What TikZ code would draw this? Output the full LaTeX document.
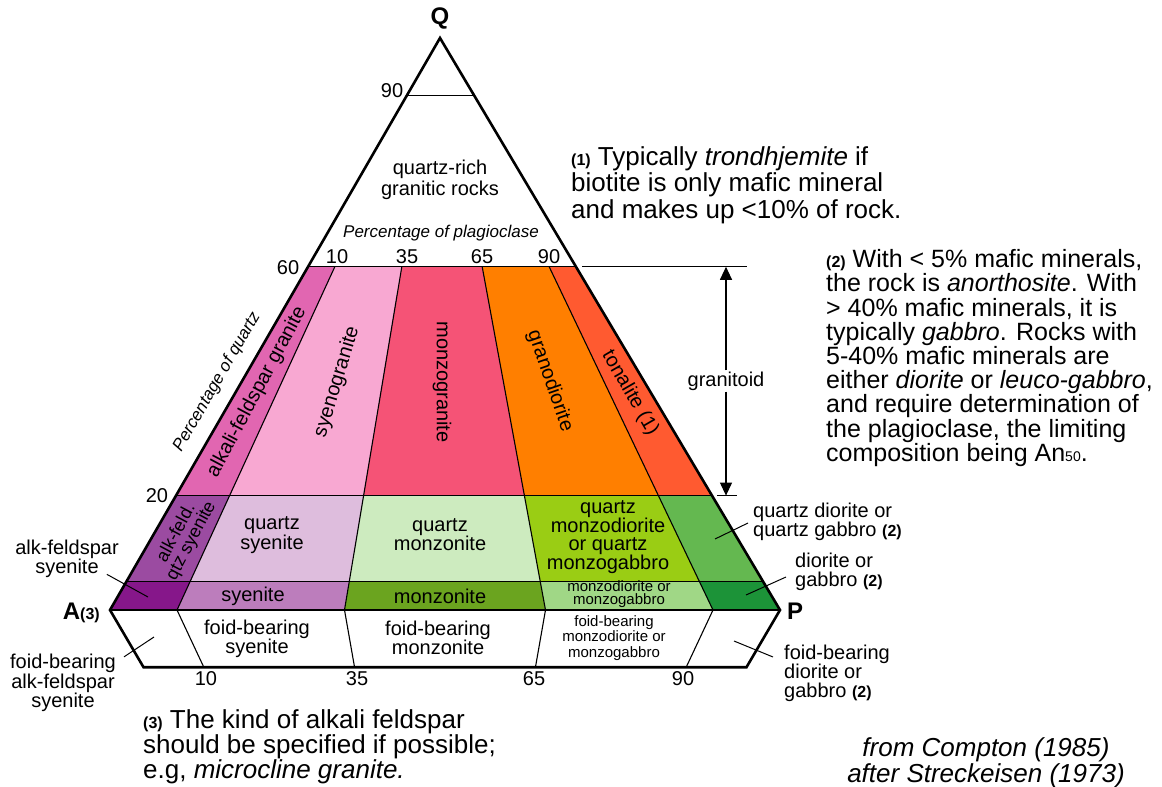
\documentclass[tikz,border=0pt]{standalone}
\usepackage{fontspec}
\setmainfont{Liberation Sans}
\usetikzlibrary{calc,arrows.meta}

\definecolor{afgranite}{HTML}{E166B1}
\definecolor{syenogranite}{HTML}{F8A8D2}
\definecolor{monzogranite}{HTML}{F55376}
\definecolor{granodiorite}{HTML}{FF7F00}
\definecolor{tonalite}{HTML}{FF5A30}
\definecolor{afqsyenite}{HTML}{9B4BA1}
\definecolor{qsyenite}{HTML}{DEBDDD}
\definecolor{qmonzonite}{HTML}{CDEBBF}
\definecolor{qmonzodiorite}{HTML}{9ACD14}
\definecolor{qdiorite}{HTML}{64B850}
\definecolor{afsyenite}{HTML}{86178A}
\definecolor{syenite}{HTML}{BC7DBC}
\definecolor{monzonite}{HTML}{6BA41F}
\definecolor{monzodiorite}{HTML}{A0D786}
\definecolor{diorite}{HTML}{1C9338}

\tikzset{
  rock/.style={font=\fontsize{20}{19}\selectfont, align=center, inner sep=1pt},
  smallrock/.style={font=\fontsize{15}{13.5}\selectfont, align=center, inner sep=1pt},
  num/.style={font=\fontsize{20}{20}\selectfont, inner sep=1pt},
  corner/.style={font=\fontsize{24}{24}\selectfont\bfseries, inner sep=1pt},
  note/.style={align=left, anchor=west, inner sep=0pt},
  border/.style={line width=2.6pt, line join=miter},
  divide/.style={line width=1.1pt},
  leader/.style={line width=1pt},
}
\newcommand{\noteref}[1]{{\fontsize{16}{16}\selectfont\bfseries(#1)}}

\begin{document}
\begin{tikzpicture}[x=1pt,y=-1pt]
  \useasboundingbox (0,0) rectangle (1162,787);
  \coordinate (Q) at (440,38);
  \coordinate (A) at (110,610);
  \coordinate (P) at (780,610);
  \coordinate (F) at (445,1182);
  % grid points: plagioclase ratio / quartz content
  \foreach \r/\n in {0/0,0.1/10,0.35/35,0.65/65,0.9/90,1/100} {
    \coordinate (q0-\n) at ($(A)!\r!(P)$);
    \coordinate (q5-\n) at ($(q0-\n)!0.05!(Q)$);
    \coordinate (q20-\n) at ($(q0-\n)!0.2!(Q)$);
    \coordinate (q60-\n) at ($(q0-\n)!0.6!(Q)$);
    \coordinate (f10-\n) at ($(q0-\n)!0.1!(F)$);
  }
  \coordinate (q90-0) at ($(A)!0.9!(Q)$);
  \coordinate (q90-100) at ($(P)!0.9!(Q)$);

  % granitoid row
  \fill[afgranite] (q20-0) -- (q60-0) -- (q60-10) -- (q20-10) -- cycle;
  \fill[syenogranite] (q20-10) -- (q60-10) -- (q60-35) -- (q20-35) -- cycle;
  \fill[monzogranite] (q20-35) -- (q60-35) -- (q60-65) -- (q20-65) -- cycle;
  \fill[granodiorite] (q20-65) -- (q60-65) -- (q60-90) -- (q20-90) -- cycle;
  \fill[tonalite] (q20-90) -- (q60-90) -- (q60-100) -- (q20-100) -- cycle;
  % quartz row
  \fill[afqsyenite] (q5-0) -- (q20-0) -- (q20-10) -- (q5-10) -- cycle;
  \fill[qsyenite] (q5-10) -- (q20-10) -- (q20-35) -- (q5-35) -- cycle;
  \fill[qmonzonite] (q5-35) -- (q20-35) -- (q20-65) -- (q5-65) -- cycle;
  \fill[qmonzodiorite] (q5-65) -- (q20-65) -- (q20-90) -- (q5-90) -- cycle;
  \fill[qdiorite] (q5-90) -- (q20-90) -- (q20-100) -- (q5-100) -- cycle;
  % bottom row
  \fill[afsyenite] (q0-0) -- (q5-0) -- (q5-10) -- (q0-10) -- cycle;
  \fill[syenite] (q0-10) -- (q5-10) -- (q5-35) -- (q0-35) -- cycle;
  \fill[monzonite] (q0-35) -- (q5-35) -- (q5-65) -- (q0-65) -- cycle;
  \fill[monzodiorite] (q0-65) -- (q5-65) -- (q5-90) -- (q0-90) -- cycle;
  \fill[diorite] (q0-90) -- (q5-90) -- (q5-100) -- (q0-100) -- cycle;

  % field boundaries
  \draw[divide] (q90-0) -- (q90-100);
  \draw[divide] (q60-0) -- (q60-100);
  \draw[divide] (q20-0) -- (q20-100);
  \draw[divide] (q5-0) -- (q5-100);
  \draw[divide] (A) -- (P);
  \foreach \n in {10,35,65,90}
    \draw[divide] (q60-\n) -- (q0-\n) -- (f10-\n);
  \draw[border] (A) -- (Q) -- (P) -- (f10-100) -- (f10-0) -- cycle;

  % granitoid range
  \coordinate (gt-l) at (582,266.8);
  \coordinate (gt-r) at (747,266.8);
  \coordinate (gb-l) at (717,495.6);
  \coordinate (gb-r) at (737,495.6);
  \draw[divide] (gt-l) -- (gt-r);
  \draw[divide] (gb-l) -- (gb-r);
  \node[rock, fill=white] (granitoid) at (726,381) {granitoid};
  \draw[divide, -{Triangle[length=13pt,width=12pt]}] (granitoid.north) -- (granitoid.north |- gt-l);
  \draw[divide, -{Triangle[length=13pt,width=12pt]}] (granitoid.south) -- (granitoid.south |- gb-l);

  % corners
  \node[corner] (Qlbl) at (440,18) {Q};
  \node[corner, anchor=east] (Albl) at (101,613) {A{\fontsize{16}{16}\selectfont(3)}};
  \node[corner, anchor=west] (Plbl) at (786,611) {P};

  % scale numbers
  \node[num] (n90) at (392,91) {90};
  \node[num] (n60) at (288,268) {60};
  \node[num] (n20) at (157,496) {20};
  \node[num] (p10) at (337,257) {10};
  \node[num] (p35) at (407,257) {35};
  \node[num] (p65) at (482,257) {65};
  \node[num] (p90) at (549,257) {90};
  \node[num] (b10) at (206,679) {10};
  \node[num] (b35) at (357,679) {35};
  \node[num] (b65) at (534,679) {65};
  \node[num] (b90) at (683,679) {90};
  \node[font=\fontsize{17}{17}\selectfont\itshape] (plag) at (441,233) {Percentage of plagioclase};
  \node[font=\fontsize{17}{17}\selectfont\itshape, rotate=60] (quartz) at (217,382) {Percentage of quartz};

  % field names
  \node[rock, font=\fontsize{20}{21}\selectfont] (qrich) at (440,180) {quartz-rich\\granitic rocks};
  \node[rock, rotate=62] (afg-lbl) at (257,392) {alkali-feldspar granite};
  \node[rock, rotate=73] (syg-lbl) at (337,382) {syenogranite};
  \node[rock, rotate=-90] (mzg-lbl) at (442,382) {monzogranite};
  \node[rock, rotate=-71] (grd-lbl) at (550,381) {granodiorite};
  \node[rock, rotate=-60] (ton-lbl) at (630,393) {tonalite (1)};
  \node[rock, font=\fontsize{18}{17}\selectfont, rotate=62] (afqs-lbl) at (184,537) {alk-feld.\\qtz syenite};
  \node[rock, font=\fontsize{20}{20}\selectfont] (qs-lbl) at (272,535) {quartz\\syenite};
  \node[rock] (qm-lbl) at (440,535) {quartz\\monzonite};
  \node[rock, font=\fontsize{20}{17.5}\selectfont] (qmd-lbl) at (608,537) {quartz\\monzodiorite\\or quartz\\monzogabbro};
  \node[rock] (sy-lbl) at (253,596) {syenite};
  \node[rock] (mz-lbl) at (440,596) {monzonite};
  \node[smallrock, font=\fontsize{15}{13}\selectfont] (mzd-lbl) at (619,594) {monzodiorite or\\monzogabbro};
  \node[rock, font=\fontsize{20}{16}\selectfont] (fsy-lbl) at (257,639) {foid-bearing\\syenite};
  \node[rock, font=\fontsize{20}{16}\selectfont] (fmz-lbl) at (438,638) {foid-bearing\\monzonite};
  \node[smallrock, font=\fontsize{15}{15.5}\selectfont] (fmzd-lbl) at (614,638) {foid-bearing\\monzodiorite or\\monzogabbro};

  % outside names with leaders
  \node[rock, font=\fontsize{20}{18}\selectfont] (afsy-lbl) at (67,559) {alk-feldspar\\syenite};
  \node[rock, font=\fontsize{20}{18}\selectfont] (fafsy-lbl) at (63,683) {foid-bearing\\alk-feldspar\\syenite};
  \node[rock, font=\fontsize{20}{18}\selectfont, align=left, anchor=west] (qdio-lbl) at (752,522) {quartz diorite or\\quartz gabbro \noteref{2}};
  \node[rock, align=left, anchor=west] (dio-lbl) at (794,572) {diorite or\\gabbro \noteref{2}};
  \node[rock, font=\fontsize{20}{18.5}\selectfont, align=left, anchor=west] (fdio-lbl) at (783,673) {foid-bearing\\diorite or\\gabbro \noteref{2}};
  \coordinate (afsy-pt) at (148,597);
  \coordinate (fafsy-pt) at (154,637);
  \coordinate (qdio-pt) at (715,539);
  \coordinate (dio-pt) at (746,595);
  \coordinate (fdio-pt) at (734,641);
  \draw[leader] (afsy-pt) -- ($(afsy-lbl.south east)+(-13,-5)$);
  \draw[leader] (fafsy-pt) -- ($(fafsy-lbl.north east)+(7,4)$);
  \draw[leader] (qdio-pt) -- ($(qdio-lbl.west)+(-4,1)$);
  \draw[leader] (dio-pt) -- ($(dio-lbl.west)+(-8,5)$);
  \draw[leader] (fdio-pt) -- ($(fdio-lbl.west)+(-10,-16)$);

  % notes
  \node[note, font=\fontsize{26}{26.5}\selectfont] (note1) at (571,185) {\noteref{1} Typically \textit{trondhjemite} if\\biotite is only mafic mineral\\and makes up <10\% of rock.};
  \node[note, font=\fontsize{25}{24.2}\selectfont] (note2) at (826,358) {\noteref{2} With < 5\% mafic minerals,\\the rock is \textit{anorthosite}. With\\> 40\% mafic minerals, it is\\typically \textit{gabbro}. Rocks with\\5-40\% mafic minerals are\\either \textit{diorite} or \textit{leuco-gabbro},\\and require determination of\\the plagioclase, the limiting\\composition being An{\fontsize{14}{14}\selectfont 50}.};
  \node[note, font=\fontsize{26}{25}\selectfont] (note3) at (143,747) {\noteref{3} The kind of alkali feldspar\\should be specified if possible;\\e.g, \textit{microcline granite.}};
  \node[font=\fontsize{26}{26}\selectfont\itshape, align=center] (credit) at (986,763) {from Compton (1985)\\after Streckeisen (1973)};
\end{tikzpicture}
\end{document}
